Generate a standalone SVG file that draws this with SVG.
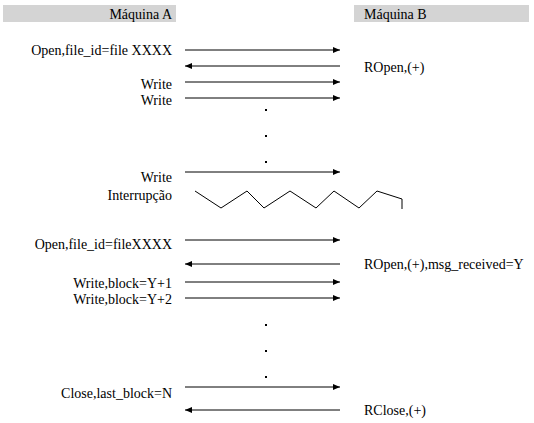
<svg xmlns="http://www.w3.org/2000/svg" width="534" height="423" viewBox="0 0 534 423">
<style>
.t{font-family:Liberation Serif,Times New Roman,Tinos,Noto Serif,DejaVu Serif,serif;font-size:14px;fill:#000}
.l{text-anchor:end}
.c line{stroke:#000;stroke-width:1}
.hdr{fill:#d4d4d4}
</style>
<defs>
<marker id="ah" markerWidth="7" markerHeight="6" refX="7" refY="3" orient="auto" markerUnits="userSpaceOnUse">
<path d="M0,0 L7,3 L0,6 Z" fill="#000"/>
</marker>
</defs>
<rect width="534" height="423" fill="#fff"/>
<g id="machineA">
<rect class="hdr" x="3" y="5" width="173" height="17"/>
<text class="t l" x="172" y="19" font-family="Liberation Serif">Máquina A</text>
</g>
<g id="machineB">
<rect class="hdr" x="354" y="5" width="175" height="17"/>
<text class="t" x="364" y="19" font-family="Liberation Serif">Máquina B</text>
</g>
<g id="labels" font-family="Liberation Serif">
<text class="t l" x="172" y="55">Open,file_id=file XXXX</text>
<text class="t" x="364" y="72">ROpen,(+)</text>
<text class="t l" x="172" y="89">Write</text>
<text class="t l" x="172" y="105">Write</text>
<text class="t l" x="172" y="182">Write</text>
<text class="t l" x="172" y="200">Interrupção</text>
<text class="t l" x="172" y="249">Open,file_id=fileXXXX</text>
<text class="t" x="364" y="269">ROpen,(+),msg_received=Y</text>
<text class="t l" x="172" y="288">Write,block=Y+1</text>
<text class="t l" x="172" y="304">Write,block=Y+2</text>
<text class="t l" x="172" y="398">Close,last_block=N</text>
<text class="t" x="364" y="415">RClose,(+)</text>
</g>
<g id="connectors" class="c">
<line x1="185" y1="50" x2="340" y2="50" marker-end="url(#ah)"/>
<line x1="340" y1="66" x2="185" y2="66" marker-end="url(#ah)"/>
<line x1="185" y1="82" x2="340" y2="82" marker-end="url(#ah)"/>
<line x1="185" y1="98" x2="340" y2="98" marker-end="url(#ah)"/>
<line x1="185" y1="172" x2="340" y2="172" marker-end="url(#ah)"/>
<line x1="185" y1="240" x2="340" y2="240" marker-end="url(#ah)"/>
<line x1="340" y1="264" x2="185" y2="264" marker-end="url(#ah)"/>
<line x1="185" y1="282" x2="340" y2="282" marker-end="url(#ah)"/>
<line x1="185" y1="298" x2="340" y2="298" marker-end="url(#ah)"/>
<line x1="185" y1="387" x2="340" y2="387" marker-end="url(#ah)"/>
<line x1="340" y1="410" x2="185" y2="410" marker-end="url(#ah)"/>
<polyline points="195,191 221,208 247,191 264,208 290,191 316,208 334,191 359,208 377,191 402,199 402,209" fill="none" stroke="#000" stroke-width="1"/>
</g>
<g id="dots" fill="#000">
<rect x="265" y="109" width="2" height="2"/>
<rect x="265" y="135" width="2" height="2"/>
<rect x="265" y="161" width="2" height="2"/>
<rect x="265" y="324" width="2" height="2"/>
<rect x="265" y="350" width="2" height="2"/>
<rect x="265" y="376" width="2" height="2"/>
</g>
</svg>
